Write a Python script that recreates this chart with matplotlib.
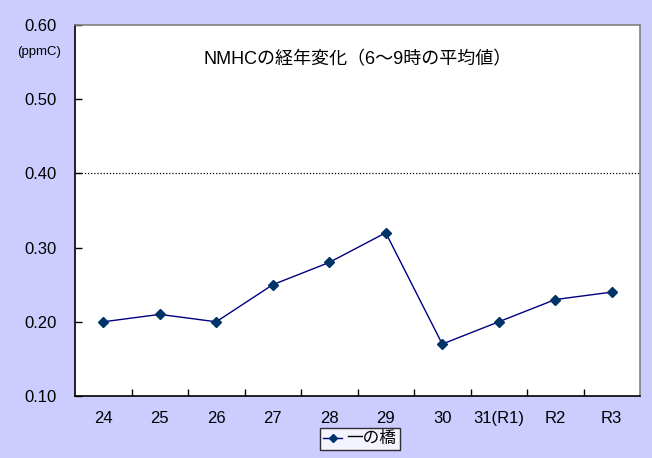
import numpy as np
import matplotlib
matplotlib.use('Agg')
import matplotlib.pyplot as plt

plt.rcParams['font.family'] = ['Liberation Sans', 'Noto Sans CJK JP', 'DejaVu Sans']

# data
years = ['24', '25', '26', '27', '28', '29', '30', '31(R1)', 'R2', 'R3']
ichinohashi = [0.20, 0.21, 0.20, 0.25, 0.28, 0.32, 0.17, 0.20, 0.23, 0.24]
series_name = '一の橋'
title = 'NMHCの経年変化（6～9時の平均値）'
unit = '(ppmC)'
ref_level = 0.40

bg = '#CCCCFF'
fig = plt.figure(figsize=(6.52, 4.58), dpi=100, facecolor=bg)
ax = fig.add_axes([75/652, 1 - 396/458, 565/652, 371/458])
ax.set_facecolor('white')

x = np.arange(len(years))
ax.plot(x, ichinohashi, color='#000080', lw=1.0, marker='D', ms=5,
        mfc='#003366', mec='#003366', label=series_name, zorder=3)
ax.axhline(ref_level, color='black', lw=0.9, ls=(0, (1, 1.5)), zorder=2)

ax.set_xlim(-0.5, len(years) - 0.5)
ax.set_ylim(0.10, 0.60)
ax.set_yticks(np.arange(0.10, 0.61, 0.10))
ax.set_yticklabels(['%.2f' % v for v in np.arange(0.10, 0.61, 0.10)])
ax.set_xticks(x)
ax.set_xticklabels(years)
ax.set_xticks(np.arange(0.5, len(years) - 0.5, 1), minor=True)

ax.tick_params(axis='y', direction='in', length=5, width=1, pad=13, labelsize=12)
ax.tick_params(axis='x', which='major', length=0, pad=11, labelsize=12)
ax.tick_params(axis='x', which='minor', direction='in', length=5, width=1)

for s in ['left', 'bottom']:
    ax.spines[s].set_color('black')
    ax.spines[s].set_linewidth(1.2)
for s in ['top', 'right']:
    ax.spines[s].set_color('#808080')
    ax.spines[s].set_linewidth(1.2)

fig.text(358/652, 1 - 60/458, title, ha='center', va='center', fontsize=13)
fig.text(39/652, 1 - 52/458, unit, ha='center', va='center', fontsize=9.5)

leg = fig.legend(loc='center', bbox_to_anchor=(360/652, 1 - 439/458),
                 fontsize=12, frameon=True, fancybox=False, handlelength=1.1,
                 borderpad=0.2, handletextpad=0.3, borderaxespad=0,
                 markerscale=0.9)
leg.get_frame().set_edgecolor('black')
leg.get_frame().set_linewidth(1.0)

fig.savefig('out.png', dpi=100, facecolor=bg)
